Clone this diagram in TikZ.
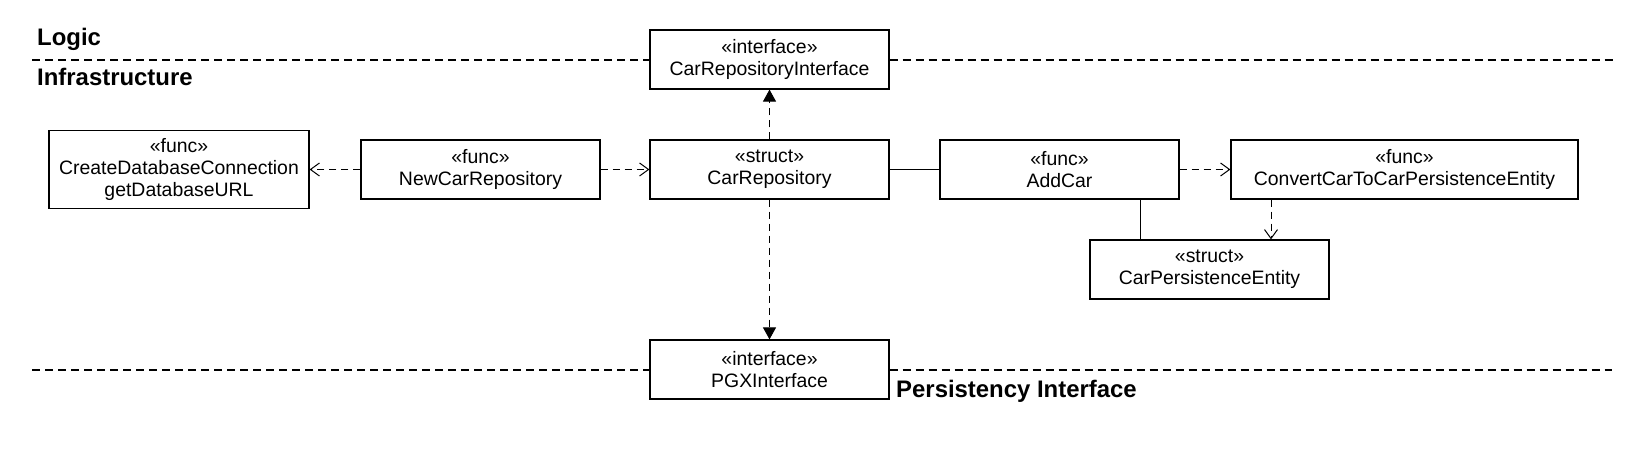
\documentclass[tikz,border=0pt]{standalone}
\usepackage{fontspec}
\setmainfont{Liberation Sans}
\usetikzlibrary{arrows.meta}
\tikzset{
  box/.style={draw, line width=1.2bp, fill=white, minimum width=239bp, minimum height=59bp,
    align=center, inner sep=0pt, font=\fontsize{19.5}{22}\selectfont},
  layer/.style={font=\fontsize{24}{28}\selectfont\bfseries, anchor=base west, inner sep=0pt},
  layerline/.style={line width=1.6bp, dash pattern=on 8bp off 5bp},
  dep/.style={line width=1bp, dash pattern=on 7bp off 5bp, -{Straight Barb[length=9bp,width=13bp,line width=1bp]}},
  real/.style={line width=1bp, dash pattern=on 7bp off 5bp, -{Triangle[length=12bp,width=13bp]}},
  assoc/.style={line width=1bp}
}
\begin{document}
\begin{tikzpicture}[x=1bp,y=-1bp]
\useasboundingbox (0,0) rectangle (1650,460);
% nodes
\node[box] (cri) at (769.5,59.5) {«interface»\\CarRepositoryInterface};
\node[box, minimum width=260bp, minimum height=78bp] (cdb) at (179,169.5) {«func»\\CreateDatabaseConnection\\getDatabaseURL};
\node[box] (ncr) at (480.5,169.5) {«func»\\NewCarRepository};
\node[box] (cr) at (769.5,169.5) {«struct»\\CarRepository};
\node[box] (add) at (1059.5,169.5) {«func»\\AddCar};
\node[box, minimum width=347bp] (conv) at (1404.5,169.5) {«func»\\ConvertCarToCarPersistenceEntity};
\node[box] (cpe) at (1209.5,269.5) {«struct»\\CarPersistenceEntity};
\node[box] (pgx) at (769.5,369.5) {«interface»\\PGXInterface};
% layer labels
\node[layer] (logic) at (37,46) {Logic};
\node[layer] (infra) at (37,86) {Infrastructure};
\node[layer] (pers) at (896,397) {Persistency Interface};
% layer lines
\coordinate (l1a) at (32,60);
\coordinate (l1b) at (1615,60);
\coordinate (l2a) at (32,370);
\coordinate (l2b) at (1612,370);
\draw[layerline] (l1a) -- (l1a -| cri.west);
\draw[layerline] (l1b -| cri.east) -- (l1b);
\draw[layerline] (l2a) -- (l2a -| pgx.west);
\draw[layerline] (l2b -| pgx.east) -- (l2b);
% connectors
\draw[dep] (ncr.west) -- (cdb.east |- ncr.west);
\draw[dep] (ncr.east) -- (cr.west);
\draw[real] (cr.north) -- (cri.south);
\draw[real] (cr.south) -- (pgx.north);
\draw[assoc] (cr.east) -- (add.west);
\draw[dep] (add.east) -- (conv.west);
\coordinate (addb) at (1140,0);
\draw[assoc] (add.south -| addb) -- (cpe.north -| addb);
\coordinate (convb) at (1271,0);
\draw[dep] (conv.south -| convb) -- (cpe.north -| convb);
\end{tikzpicture}
\end{document}
